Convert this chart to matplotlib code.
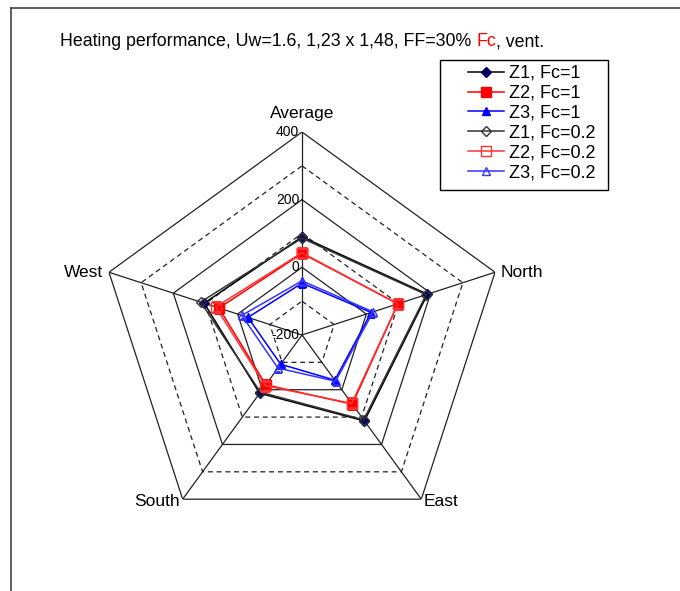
import matplotlib.pyplot as plt
import matplotlib.transforms as mtransforms
from matplotlib.lines import Line2D
from matplotlib.patches import Rectangle
import numpy as np

plt.rcParams['font.family'] = ['Liberation Sans', 'DejaVu Sans']

# данные
directions = ['Average', 'North', 'East', 'South', 'West']
z1_fc1 = [90, 190, 114, 13, 104]
z2_fc1 = [41, 98, 53, -18, 58]
z3_fc1 = [-47, 15, -35, -93, -32]
z1_fc02 = [86, 186, 110, 9, 115]
z2_fc02 = [43, 98, 50, -15, 68]
z3_fc02 = [-40, 21, -31, -79, -13]
rings = [-100, 0, 100, 200, 300, 400]
tick_vals = [400, 200, 0, -200]

r_min, r_max = -200, 400
W, H = 680, 591

fig = plt.figure(figsize=(6.8, 5.91), dpi=100)
ax = fig.add_axes([0.1456, 0.0897, 0.597, 0.687], projection='polar')
ax.set_theta_offset(np.pi / 2)
ax.set_theta_direction(-1)
ax.set_ylim(r_min, r_max)
ax.grid(False)
ax.spines['polar'].set_visible(False)
ax.set_xticks([])
ax.set_yticks([])
ax.patch.set_alpha(0)

n = len(directions)
theta = np.arange(n) * 2 * np.pi / n
theta_c = np.append(theta, theta[0])

# кольца
for r in rings:
    ls = '-' if r % 200 == 0 else (0, (4, 3))
    ax.plot(theta_c, [r] * (n + 1), color='#222222', lw=0.9, ls=ls, zorder=1)

# спицы
for t in theta:
    ax.plot([t, t], [r_min, r_max], color='#222222', lw=0.9, zorder=1)

# подписи шкалы
off = mtransforms.offset_copy(ax.transData, fig=fig, x=-2, y=0, units='points')
for v in tick_vals:
    ax.text(0, v, str(v), transform=off, ha='right', va='center', fontsize=10)

# подписи направлений
lab_pos = {
    'Average': dict(dx=0, dy=8, ha='center', va='bottom'),
    'North': dict(dx=4, dy=0, ha='left', va='center'),
    'East': dict(dx=2, dy=-2, ha='left', va='center'),
    'South': dict(dx=-2, dy=-2, ha='right', va='center'),
    'West': dict(dx=-4, dy=0, ha='right', va='center'),
}
for t, name in zip(theta, directions):
    p = lab_pos[name]
    tr = mtransforms.offset_copy(ax.transData, fig=fig, x=p['dx'], y=p['dy'], units='points')
    ax.text(t, r_max, name, transform=tr, ha=p['ha'], va=p['va'], fontsize=12.5)


def close(vals):
    return list(vals) + [vals[0]]


series = [
    (z1_fc1, 'Z1, Fc=1', 'black', 'D', '#000060', 5.5),
    (z2_fc1, 'Z2, Fc=1', 'red', 's', 'red', 7.5),
    (z3_fc1, 'Z3, Fc=1', 'blue', '^', 'blue', 6),
    (z1_fc02, 'Z1, Fc=0.2', '#333333', 'D', 'none', 5.5),
    (z2_fc02, 'Z2, Fc=0.2', '#ff3333', 's', 'none', 7.5),
    (z3_fc02, 'Z3, Fc=0.2', '#3333ff', '^', 'none', 6),
]
handles = []
for vals, lab, col, mk, fc, ms in series:
    mec = fc if fc != 'none' else col
    h, = ax.plot(theta_c, close(vals), color=col, lw=1.1, marker=mk, ms=ms,
                 markerfacecolor=fc, markeredgecolor=mec, label=lab, zorder=3)
    handles.append(h)

# легенда в отдельной рамке
fig.add_artist(Rectangle((440 / W, 1 - 190 / H), 168 / W, 130 / H, transform=fig.transFigure,
                         facecolor='white', edgecolor='black', lw=1.0, zorder=4))
leg = fig.legend(handles=handles, loc='upper left', bbox_to_anchor=(468 / W, 1 - 65 / H),
                 frameon=False, fontsize=13, handlelength=2.0, handletextpad=0.25,
                 borderpad=0, labelspacing=0.16, borderaxespad=0, markerscale=0.95)
leg.set_zorder(5)

# заголовок
ty = 1 - 42 / H
t1 = fig.text(60 / W, ty, 'Heating performance, Uw=1.6, 1,23 x 1,48, FF=30% ',
              fontsize=12.8, ha='left', va='center')
fig.canvas.draw()
x2 = t1.get_window_extent().x1 / fig.bbox.width
t2 = fig.text(x2, ty, 'Fc', color='red', fontsize=12.8, ha='left', va='center')
fig.canvas.draw()
x3 = t2.get_window_extent().x1 / fig.bbox.width
fig.text(x3, ty, ', vent.', fontsize=12.8, ha='left', va='center')

# рамка
fig.add_artist(Line2D([11 / W, 11 / W], [0, 1 - 8 / H], transform=fig.transFigure,
                      color='#444444', lw=1.2))
fig.add_artist(Line2D([11 / W, 1], [1 - 8 / H, 1 - 8 / H], transform=fig.transFigure,
                      color='#444444', lw=1.2))

fig.savefig('out.png', dpi=100)
